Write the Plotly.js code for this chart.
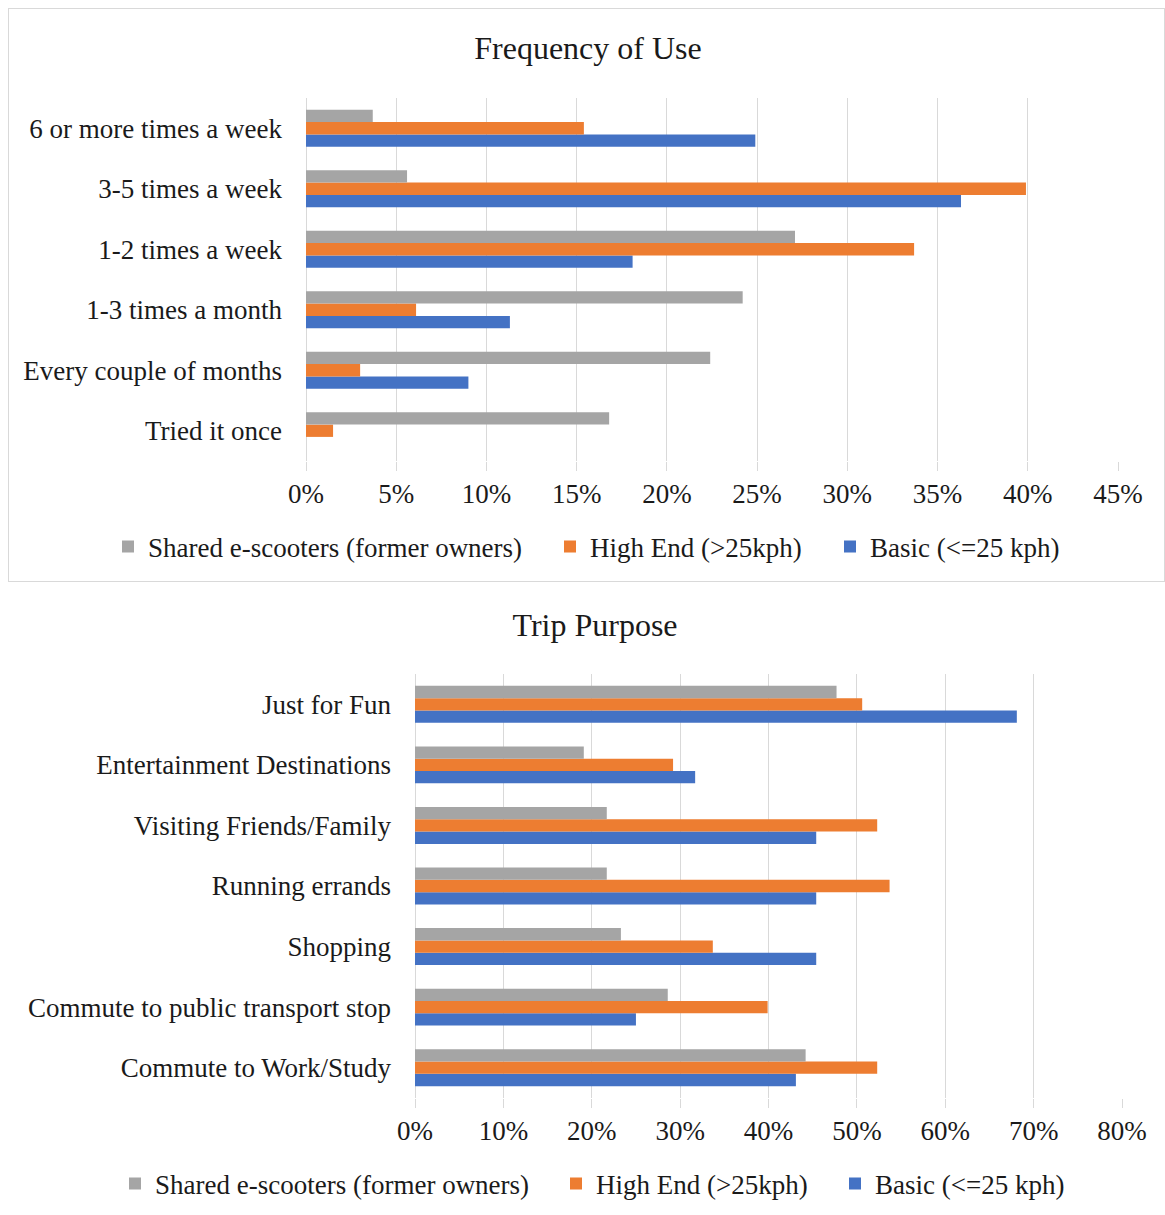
<!DOCTYPE html>
<html>
<head>
<meta charset="utf-8">
<script src="https://cdn.plot.ly/plotly-3.0.1.min.js"></script>
<style>
  html, body { margin: 0; padding: 0; background: #ffffff; }
  #wrap { position: relative; width: 1165px; height: 1215px; overflow: hidden; background: #fff; }
  #freq { position: absolute; left: 8px; top: 8px; width: 1155px; height: 572px; border: 1px solid #d9d9d9; }
  #trip { position: absolute; left: 0px; top: 585px; width: 1165px; height: 630px; }
</style>
</head>
<body>
<div id="wrap">
  <div id="freq"></div>
  <div id="trip"></div>
</div>
<script>
// ---------- Data ----------
const seriesNames = ["Basic (<=25 kph)", "High End (>25kph)", "Shared e-scooters (former owners)"];
const seriesColors = ["#4472C4", "#ED7D31", "#A5A5A5"];

// Frequency of Use (listed top to bottom)
const freqCategories = ["6 or more times a week", "3-5 times a week", "1-2 times a week",
                        "1-3 times a month", "Every couple of months", "Tried it once"];
const freqBasic  = [0.249, 0.363, 0.181, 0.113, 0.090, 0.000];
const freqHigh   = [0.154, 0.399, 0.337, 0.061, 0.030, 0.015];
const freqShared = [0.037, 0.056, 0.271, 0.242, 0.224, 0.168];
const freqTicks  = [0, 0.05, 0.10, 0.15, 0.20, 0.25, 0.30, 0.35, 0.40, 0.45];

// Trip Purpose (listed top to bottom)
const tripCategories = ["Just for Fun", "Entertainment Destinations", "Visiting Friends/Family",
                        "Running errands", "Shopping", "Commute to public transport stop",
                        "Commute to Work/Study"];
const tripBasic  = [0.681, 0.317, 0.454, 0.454, 0.454, 0.250, 0.431];
const tripHigh   = [0.506, 0.292, 0.523, 0.537, 0.337, 0.399, 0.523];
const tripShared = [0.477, 0.191, 0.217, 0.217, 0.233, 0.286, 0.442];
const tripTicks  = [0, 0.1, 0.2, 0.3, 0.4, 0.5, 0.6, 0.7, 0.8];

// ---------- Drawing ----------
const FONT = "Liberation Serif, Times New Roman, serif";
const TXT = "#1a1a1a";
const FS = 27;
const legendIds = ["legend3", "legend2", "legend"]; // Basic, High End, Shared

function makeTraces(cats, seriesVals) {
  return seriesVals.map((vals, i) => ({
    type: "bar",
    orientation: "h",
    name: seriesNames[i],
    legend: legendIds[i],
    y: cats,
    x: vals,
    marker: { color: seriesColors[i], line: { width: 0 } },
    hoverinfo: "skip"
  }));
}

function legendAt(xLeft, yMid, w, h) {
  return { orientation: "h", xref: "container", yref: "container",
           x: xLeft / w, xanchor: "left", y: 1 - yMid / h, yanchor: "middle",
           font: { family: FONT, size: FS, color: TXT },
           itemwidth: 30, bgcolor: "rgba(0,0,0,0)", borderwidth: 0 };
}

function makeLayout(o) {
  const lay = {
    width: o.w, height: o.h,
    paper_bgcolor: "rgba(0,0,0,0)", plot_bgcolor: "rgba(0,0,0,0)",
    margin: o.margin,
    font: { family: FONT, color: TXT, size: FS },
    title: { text: o.title, font: { family: FONT, size: 32, color: TXT },
             x: o.titleX / o.w, xref: "container", xanchor: "center",
             y: 1 - o.titleY / o.h, yref: "container", yanchor: "middle" },
    barmode: "group",
    bargap: 0.39,
    bargroupgap: 0,
    showlegend: true,
    xaxis: {
      range: o.xrange, tickvals: o.ticks,
      tickformat: ".0%", showgrid: true, gridcolor: "#d9d9d9", gridwidth: 1,
      zeroline: true, zerolinecolor: "#d9d9d9", zerolinewidth: 1,
      showline: false, ticks: "outside", ticklen: 9, tickcolor: "#d9d9d9",
      tickfont: { family: FONT, size: FS, color: TXT }, fixedrange: true
    },
    yaxis: {
      type: "category", categoryorder: "array", categoryarray: o.cats.slice().reverse(),
      showgrid: false, zeroline: false, showline: false, ticks: "",
      ticklabelstandoff: 23,
      tickfont: { family: FONT, size: FS, color: TXT }, fixedrange: true
    }
  };
  // legend positions: [Shared, High End, Basic] text starts (div coords)
  lay.legend  = legendAt(o.legText[0] - 40, o.legY, o.w, o.h);
  lay.legend2 = legendAt(o.legText[1] - 40, o.legY, o.w, o.h);
  lay.legend3 = legendAt(o.legText[2] - 40, o.legY, o.w, o.h);
  return lay;
}

Plotly.newPlot("freq",
  makeTraces(freqCategories, [freqBasic, freqHigh, freqShared]),
  makeLayout({ w: 1155, h: 572, title: "Frequency of Use", titleX: 579, titleY: 39,
               margin: { l: 297, r: 46, t: 89, b: 120, pad: 0 },
               xrange: [0, 0.45], ticks: freqTicks, cats: freqCategories,
               legText: [148 - 9, 590 - 9, 870 - 9], legY: 547 - 9 }),
  { displayModeBar: false, staticPlot: true });

Plotly.newPlot("trip",
  makeTraces(tripCategories, [tripBasic, tripHigh, tripShared]),
  makeLayout({ w: 1165, h: 630, title: "Trip Purpose", titleX: 595, titleY: 40,
               margin: { l: 415, r: 43, t: 89, b: 117, pad: 0 },
               xrange: [0, 0.8], ticks: tripTicks, cats: tripCategories,
               legText: [155, 596, 875], legY: 599 }),
  { displayModeBar: false, staticPlot: true });
</script>
</body>
</html>
